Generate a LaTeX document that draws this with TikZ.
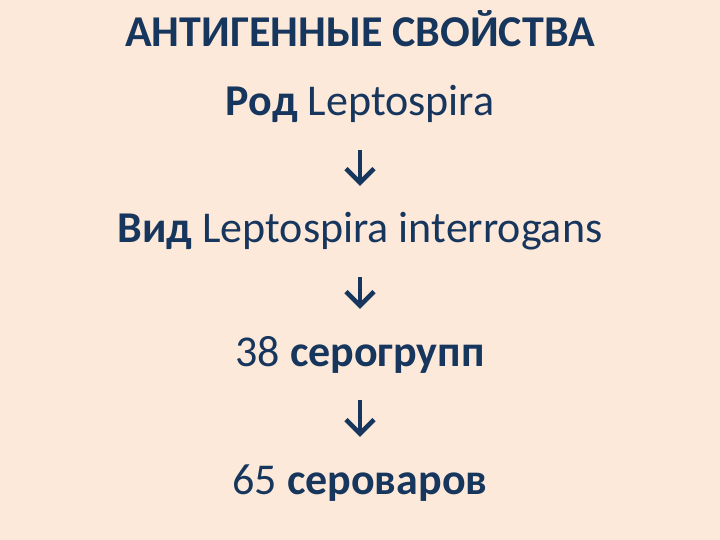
\documentclass[tikz,border=0pt]{standalone}
\usepackage{fontspec}
\setmainfont{Carlito}
\usetikzlibrary{arrows.meta}
\definecolor{slidebg}{HTML}{FDE9D9}
\definecolor{slidetext}{HTML}{17365D}
\tikzset{
  textline/.style={font=\fontsize{44}{53}\selectfont, text=slidetext, anchor=base,
    inner sep=0pt, text height=28pt, text depth=8pt},
  downarrow/.style={draw=slidetext, line width=4.5pt,
    -{Straight Barb[length=14pt, width=28pt]}, shorten <=26pt, shorten >=29pt}
}
\begin{document}
\begin{tikzpicture}[x=1pt, y=-1pt]
                \fill[slidebg] (0,0) rectangle (720,540);

                \node[textline] (title) at (360,47) {\textbf{АНТИГЕННЫЕ СВОЙСТВА}};
                \node[textline] (rod) at (360,116) {\textbf{Род} Leptospira};
                \node[textline] (vid) at (360,243) {\textbf{Вид} Leptospira interrogans};
                \node[textline] (sero38) at (360,366) {38 \textbf{серогрупп}};
                \node[textline] (sero65) at (360,494) {65 \textbf{сероваров}};

                \draw[downarrow] (rod.south) -- (vid.north);
                \draw[downarrow] (vid.south) -- (sero38.north);
                \draw[downarrow] (sero38.south) -- (sero65.north);
\end{tikzpicture}
\end{document}
